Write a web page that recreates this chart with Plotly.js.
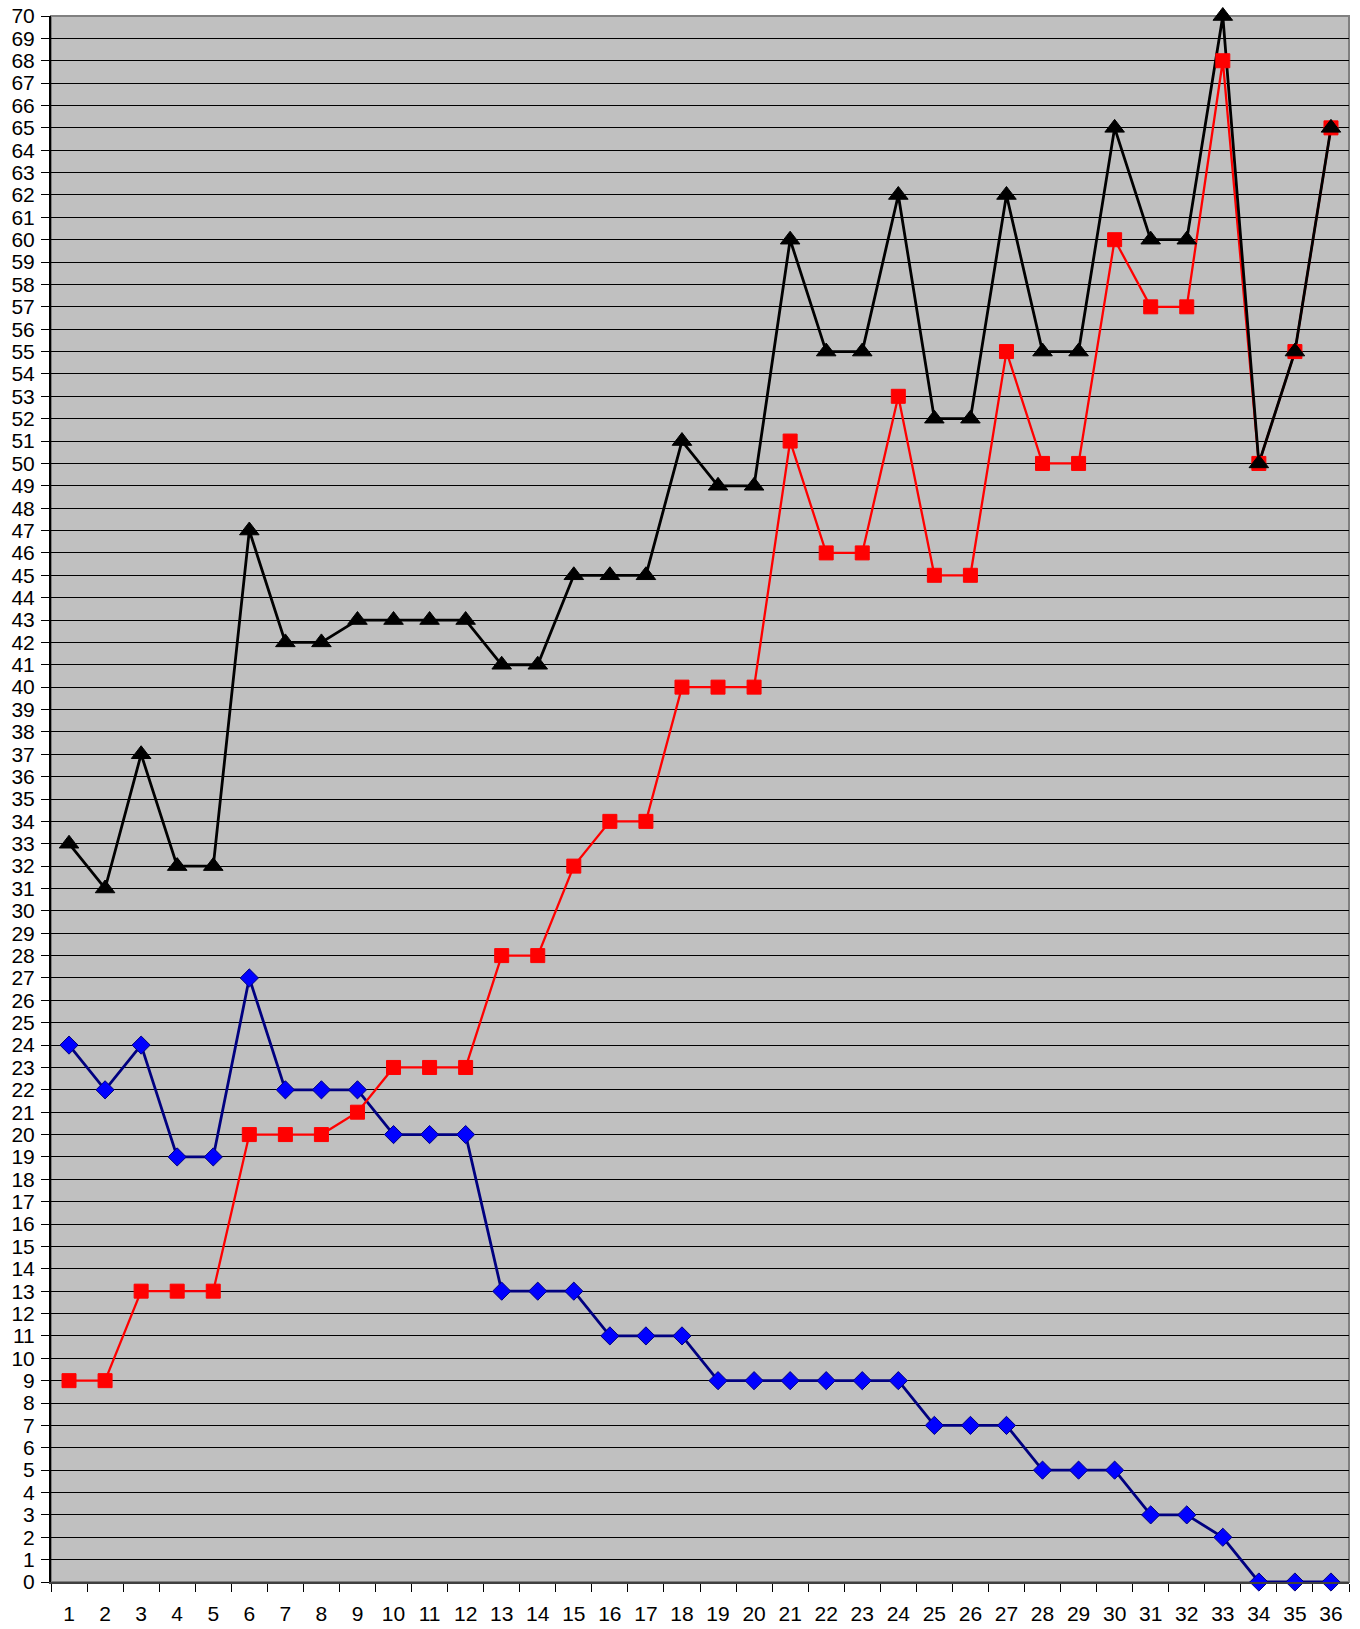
<!DOCTYPE html>
<html>
<head>
<meta charset="utf-8">
<script src="https://cdn.plot.ly/plotly-3.0.1.min.js"></script>
<style>html,body{margin:0;padding:0;background:#fff;}#chart{width:1360px;height:1629px;}</style>
</head>
<body>
<div id="chart"></div>
<script>
const categories = ["1","2","3","4","5","6","7","8","9","10","11","12","13","14","15","16","17","18","19","20","21","22","23","24","25","26","27","28","29","30","31","32","33","34","35","36"];
const blueValues = [24,22,24,19,19,27,22,22,22,20,20,20,13,13,13,11,11,11,9,9,9,9,9,9,7,7,7,5,5,5,3,3,2,0,0,0];
const redValues = [9,9,13,13,13,20,20,20,21,23,23,23,28,28,32,34,34,40,40,40,51,46,46,53,45,45,55,50,50,60,57,57,68,50,55,65];
const blackValues = [33,31,37,32,32,47,42,42,43,43,43,43,41,41,45,45,45,51,49,49,60,55,55,62,52,52,62,55,55,65,60,60,70,50,55,65];
const yTickVals = Array.from({length: 71}, (_, i) => i);

function lineTrace(y, color, w) {
  return {x: categories, y: y, type: 'scatter', mode: 'lines', line: {color: color, width: w}, hoverinfo: 'skip', cliponaxis: false};
}
function markTrace(y, color, sym, size, lineColor) {
  return {x: categories, y: y, type: 'scatter', mode: 'markers',
    marker: {color: color, symbol: sym, size: size, line: {color: lineColor, width: 1}}, cliponaxis: false};
}

const data = [
  lineTrace(blueValues, '#000080', 2.8),
  lineTrace(redValues, '#FF0000', 2.3),
  lineTrace(blackValues, '#000000', 2.8),
  markTrace(blueValues, '#0000FF', 'diamond', 14, '#000080'),
  markTrace(redValues, '#FF0000', 'square', 14, '#FF0000'),
  markTrace(blackValues, '#000000', 'triangle-up', 17, '#000000')
];

const layout = {
  width: 1360, height: 1629,
  margin: {l: 51, r: 11, t: 16, b: 47, pad: 0},
  paper_bgcolor: '#FFFFFF',
  plot_bgcolor: '#C0C0C0',
  showlegend: false,
  font: {family: 'Liberation Sans, Arial, sans-serif', size: 21, color: '#000'},
  xaxis: {
    type: 'category', range: [-0.5, 35.5], tickson: 'boundaries',
    showgrid: false, zeroline: false,
    ticks: 'outside', ticklen: 8, tickcolor: '#000', tickwidth: 1,
    showline: true, linecolor: '#404040', linewidth: 2,
    tickfont: {size: 21, family: 'Liberation Sans, Arial, sans-serif', color: '#000'},
    ticklabelstandoff: 12
  },
  yaxis: {
    range: [0, 70], tickvals: yTickVals, ticktext: yTickVals.map(String),
    showgrid: true, gridcolor: '#000000', gridwidth: 1,
    zeroline: false,
    ticks: 'outside', ticklen: 8, tickcolor: '#000', tickwidth: 1,
    showline: true, linecolor: '#000', linewidth: 2,
    tickfont: {size: 21, family: 'Liberation Sans, Arial, sans-serif', color: '#000'},
    ticklabelstandoff: 2
  },
  shapes: [
    {type: 'rect', xref: 'paper', yref: 'paper', x0: 0, x1: 1, y0: 0, y1: 1,
     line: {color: '#808080', width: 2}, layer: 'below'}
  ]
};

Plotly.newPlot('chart', data, layout, {displayModeBar: false, staticPlot: true});
</script>
</body>
</html>
